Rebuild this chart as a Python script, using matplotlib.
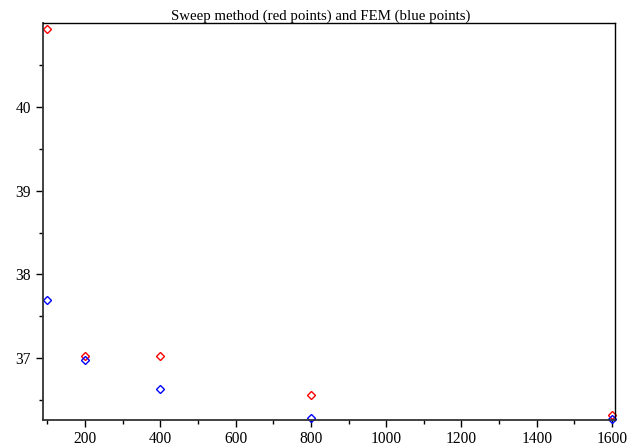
import matplotlib
matplotlib.use("Agg")
import matplotlib.pyplot as plt
from matplotlib.ticker import MultipleLocator

plt.rcParams['font.family'] = ['Liberation Serif', 'DejaVu Serif']

n_values = [100, 200, 400, 800, 1600]
sweep_values = [40.93, 37.03, 37.03, 36.56, 36.33]
fem_values = [37.69, 36.98, 36.63, 36.29, 36.28]
title_text = "Sweep method (red points) and FEM (blue points)"

fig = plt.figure(figsize=(6.39, 4.48), dpi=100)
ax = fig.add_axes([0.0678, 0.0625, 0.8954, 0.8862])

ax.plot(n_values, sweep_values, linestyle='none', marker='D', markersize=4.5,
        markerfacecolor='none', markeredgecolor='red', markeredgewidth=1.0, clip_on=False)
ax.plot(n_values, fem_values, linestyle='none', marker='D', markersize=4.5,
        markerfacecolor='none', markeredgecolor='blue', markeredgewidth=1.0, clip_on=False)

ax.set_xlim(89.3, 1609)
ax.set_ylim(36.265, 40.998)

ax.xaxis.set_major_locator(MultipleLocator(200))
ax.xaxis.set_minor_locator(MultipleLocator(100))
ax.yaxis.set_major_locator(MultipleLocator(1))
ax.yaxis.set_minor_locator(MultipleLocator(0.5))

ax.tick_params(axis='both', which='major', direction='out', length=5, width=1,
               labelsize=11.2, top=False, right=False)
ax.tick_params(axis='both', which='minor', direction='out', length=3, width=1,
               top=False, right=False)
ax.tick_params(axis='x', pad=3)
ax.tick_params(axis='y', pad=4)

for s in ['left', 'bottom']:
    ax.spines[s].set_linewidth(1.3)
    ax.spines[s].set_color('#333333')
for s in ['top', 'right']:
    ax.spines[s].set_linewidth(1.0)
    ax.spines[s].set_color('black')

ax.set_title(title_text, fontsize=10.7, pad=2, x=0.484)

fig.savefig("out.png", dpi=100)
